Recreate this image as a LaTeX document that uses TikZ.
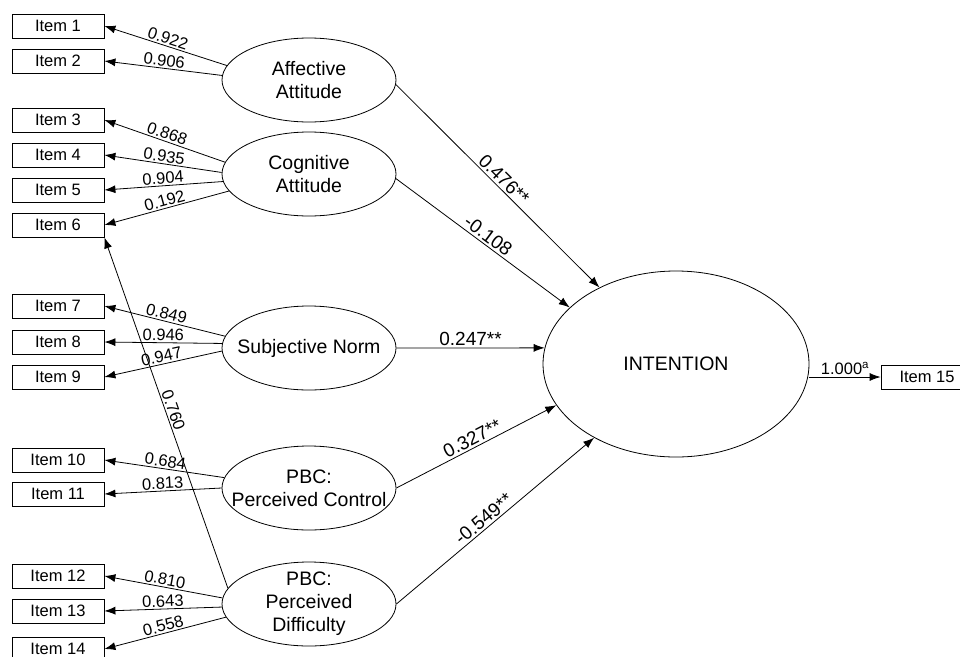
\documentclass[tikz,border=0pt]{standalone}
\usepackage{fontspec}
\setmainfont{Liberation Sans}
\usetikzlibrary{arrows.meta,shapes.geometric}

\begin{document}
\begin{tikzpicture}[x=1pt, y=-1pt, >={Latex[length=11pt, width=8pt]}, line width=0.8pt,
        item/.style={draw, rectangle, minimum width=92pt, minimum height=24pt,
                     inner sep=0pt, font=\fontsize{16.5}{19}\selectfont},
        latent/.style={draw, ellipse, minimum width=174pt, minimum height=84pt, inner sep=0pt},
        ltext/.style={align=center, font=\fontsize{19.5}{23}\selectfont},
        coef/.style={font=\fontsize{16.5}{19}\selectfont, sloped, above, inner sep=1.5pt},
        beta/.style={font=\fontsize{19}{22}\selectfont, sloped, above, inner sep=2pt}]
        \useasboundingbox (0,0) rectangle (960,656);

        \foreach \i/\y in {1/26, 2/61, 3/120, 4/155, 5/190, 6/225, 7/306,
                           8/342, 9/377, 10/460, 11/494, 12/576, 13/611, 14/649}
            \node[item] (i\i) at (58,\y) {Item \i};
        \node[item] (i15) at (927,377) {Item 15};

        \node[latent] (aff) at (309,80)  {};
        \node[latent] (cog) at (309,174) {};
        \node[latent] (sn)  at (309,348) {};
        \node[latent] (pc)  at (309,488) {};
        \node[latent] (pd)  at (309,604) {};
        \node[ellipse, draw, minimum width=266pt, minimum height=186pt] (int) at (676,364) {};

        \node[ltext] (aff-t) at (aff) {Affective\\Attitude};
        \node[ltext] (cog-t) at (cog) {Cognitive\\Attitude};
        \node[ltext] (sn-t)  at (sn)  {Subjective Norm};
        \node[ltext] (pc-t)  at (pc)  {PBC:\\Perceived Control};
        \node[ltext] (pd-t)  at (pd)  {PBC:\\Perceived\\Difficulty};
        \node[ltext] (int-t) at (int) {INTENTION};

        \foreach \a/\i/\v in {170/1/0.922, 177/2/0.906}
            \draw[->] (aff.\a) to node[coef] {\v} (i\i.east);
        \foreach \a/\i/\v in {172.6/3/0.868, 179.3/4/0.935, 185.9/5/0.904, 192.7/6/0.192}
            \draw[->] (cog.\a) to node[coef] {\v} (i\i.east);
        \foreach \a/\i/\v in {172.6/7/0.849, 177.4/8/0.946, 182.6/9/0.947}
            \draw[->] (sn.\a) to node[coef] {\v} (i\i.east);
        \foreach \a/\i/\v in {173.4/10/0.684, 180.7/11/0.813}
            \draw[->] (pc.\a) to node[coef] {\v} (i\i.east);
        \foreach \a/\i/\v in {176.7/12/0.810, 182/13/0.643, 189/14/0.558}
            \draw[->] (pd.\a) to node[coef] {\v} (i\i.east);
        \draw[->] (pd.169.5) to node[coef] {0.760} (i6.south east);

        \draw[->] (aff.-3) to node[beta] {0.476**} (int.135.4);
        \draw[->] (cog.-3) to node[beta] {-0.108} (int.152.6);
        \draw[->] (sn.east) to node[beta] {0.247**} (int.173);
        \draw[->] (pc.east) to node[beta] {0.327**} (int.199.7);
        \draw[->] (pd.east) to node[beta, pos=0.47] {-0.549**} (int.222);

        \draw[->] (int.east |- i15.west) to node[coef] {1.000\textsuperscript{a}} (i15.west);
\end{tikzpicture}
\end{document}
